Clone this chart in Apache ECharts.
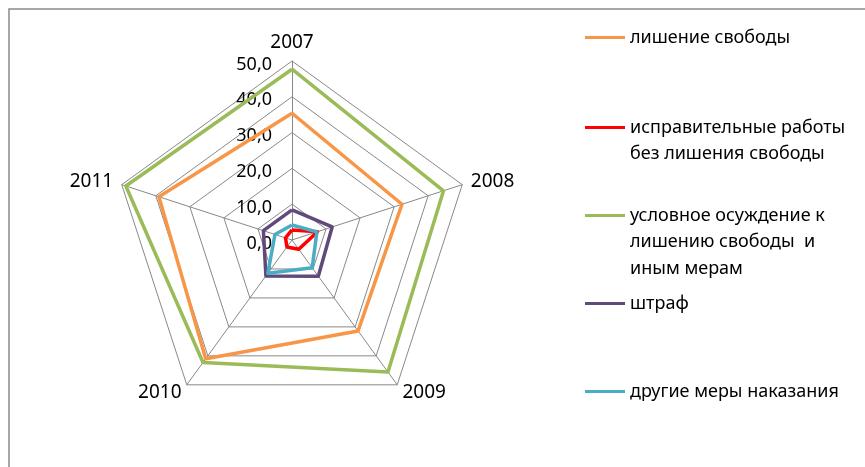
<!DOCTYPE html>
<html><head><meta charset="utf-8">
<script src="https://cdn.jsdelivr.net/npm/echarts@6/dist/echarts.min.js"></script>
<style>html,body{margin:0;padding:0;background:#fff}#c{width:865px;height:467px}</style>
</head><body><div id="c"></div>
<script>
const years = ['2007', '2008', '2009', '2010', '2011'];
const tickValues = [0, 10, 20, 30, 40, 50];
const seriesNames = ['лишение свободы', 'исправительные работы без лишения свободы', 'условное осуждение к лишению свободы и иным мерам', 'штраф', 'другие меры наказания'];
const legendLines = [
  ['лишение свободы'],
  ['исправительные работы', 'без лишения свободы'],
  ['условное осуждение к', 'лишению свободы  и', 'иным мерам'],
  ['штраф'],
  ['другие меры наказания']
];
const deprivation = [35.4, 32.3, 31.4, 41.0, 39.1];
const correctional = [2.8, 7.5, 3.2, 2.4, 1.9];
const conditional = [47.7, 44.5, 45.6, 42.3, 48.8];
const fine = [8.4, 11.8, 12.5, 12.4, 8.4];
const other = [4.2, 7.3, 9.6, 11.5, 5.0];

const values = [deprivation, correctional, conditional, fine, other];
const colors = ['#F79646', '#FF0000', '#9BBB59', '#604A7B', '#4BACC6'];
const iconY = [37.5, 127.5, 215.5, 303.5, 391.5];
const LH = 26.5;
const FONT = 'Noto Sans';
// ECharts radar runs counter-clockwise; this order puts the years clockwise from the top
const order = [0, 4, 3, 2, 1];

const chart = echarts.init(document.getElementById('c'), null, {renderer: 'canvas'});
const legends = seriesNames.map((nm, i) => {
  const n = legendLines[i].length;
  const lines = [];
  for (let k = 0; k < n - 1; k++) lines.push(' ');
  const text = lines.concat(legendLines[i]).join('\n');
  const H = (2 * n - 1) * LH;
  return {
    data: [nm], left: 585, top: iconY[i] - H / 2, padding: 0,
    orient: 'vertical', icon: 'rect', itemWidth: 40, itemHeight: 3,
    selectedMode: false,
    formatter: () => text,
    textStyle: {fontFamily: FONT, fontSize: 18, color: '#000', lineHeight: LH}
  };
});
chart.setOption({
  animation: false,
  graphic: [{type: 'rect', shape: {x: 9, y: 9, width: 900, height: 500}, style: {fill: 'none', stroke: '#8a8a8a', lineWidth: 1.5}, z: -1}],
  legend: legends,
  radar: {
    center: [292, 240], radius: 179, startAngle: 90, shape: 'polygon', splitNumber: 5,
    indicator: order.map((k, i) => {
      const ind = {name: years[k], min: 0, max: 50};
      if (i !== 0) ind.axisLabel = {show: false};
      return ind;
    }),
    axisName: {color: '#000', fontFamily: FONT, fontSize: 19},
    nameGap: 9,
    splitLine: {lineStyle: {color: '#888', width: 1}},
    splitArea: {show: false},
    axisLine: {lineStyle: {color: '#888', width: 1}},
    axisTick: {show: false},
    axisLabel: {show: true, color: '#000', fontFamily: FONT, fontSize: 18, margin: 20,
      formatter: v => tickValues.includes(v) ? '{a|' + v.toFixed(1).replace('.', ',') + '}' : '',
      rich: {a: {fontFamily: FONT, fontSize: 18, color: '#000', padding: [7, 0, 0, 0]}}}
  },
  series: [{
    type: 'radar', symbol: 'none',
    data: seriesNames.map((nm, i) => ({name: nm, value: order.map(k => values[i][k]), lineStyle: {color: colors[i], width: 3.5}, itemStyle: {color: colors[i]}}))
  }]
});
</script></body></html>
